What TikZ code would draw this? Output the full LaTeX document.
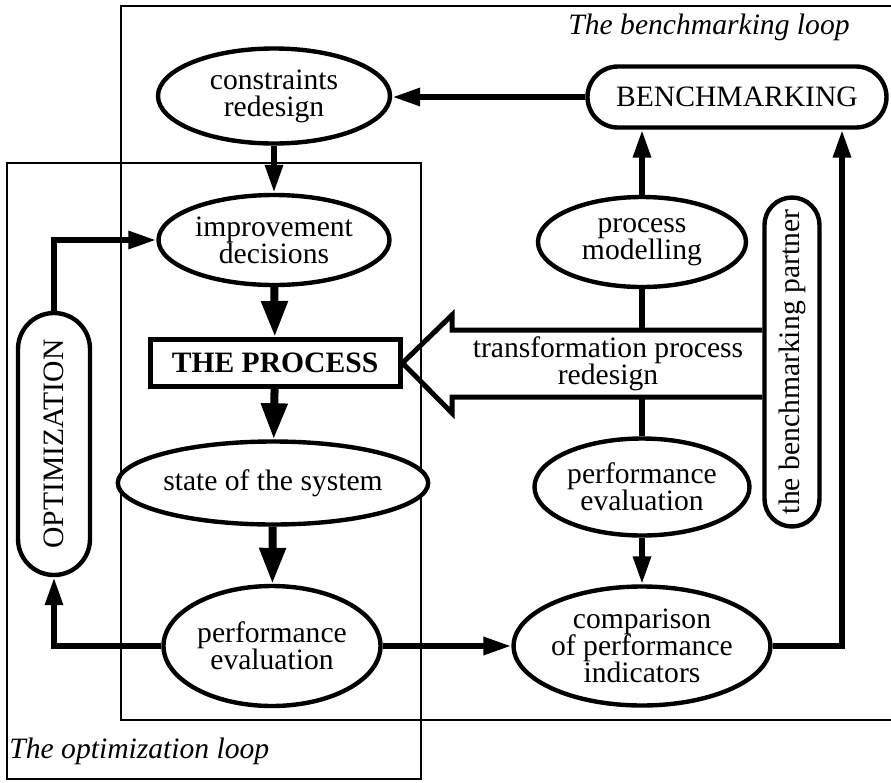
\documentclass[tikz,border=0pt]{standalone}
\usepackage{fontspec}
\setmainfont{Liberation Serif}
\usetikzlibrary{arrows.meta,shapes.geometric}
\begin{document}
\begin{tikzpicture}[x=0.5pt,y=-0.5pt,
  every node/.style={font=\fontsize{14.8}{13.6}\selectfont, align=center, inner sep=0pt},
  oval/.style={ellipse, draw, line width=2.2pt, fill=white},
  pill/.style={draw, line width=2.2pt, fill=white},
  loopframe/.style={line width=1.4pt},
  arr/.style={line width=3pt, -{Triangle[length=14pt,width=8.5pt]}},
  thickarr/.style={line width=4pt, -{Triangle[length=18pt,width=12.5pt]}},
  link/.style={line width=3pt},
  bigarrow/.style={line width=2.5pt, line join=miter},
]
\useasboundingbox (0,0) rectangle (891,783);

% loop frames
\draw[loopframe] (891,6) -- (121,6) -- (121,720) -- (891,720);
\draw[loopframe] (7,163) rectangle (421,779);
\node[anchor=base east, font=\fontsize{14.8}{13.6}\itshape] (bltitle) at (850,34) {The benchmarking loop};
\node[anchor=base west, font=\fontsize{14.8}{13.6}\itshape] (oltitle) at (9,758) {The optimization loop};

% optimization loop column
\node[oval, minimum width=116pt, minimum height=47.5pt] (constraints) at (274,96) {constraints\\redesign};
\node[oval, minimum width=115.5pt, minimum height=45pt] (improvement) at (274,240) {improvement\\decisions};
\node[draw, line width=2.5pt, fill=white, minimum width=125pt, minimum height=23.5pt, font=\fontsize{14.8}{13.6}\bfseries] (process) at (275,363) {THE PROCESS};
\node[oval, minimum width=135.5pt, minimum height=41.5pt] (state) at (273,483) {state of the system};
\node[oval, minimum width=108.5pt, minimum height=60pt] (perfL) at (272,646) {performance\\evaluation};
\node[pill, minimum width=36pt, minimum height=131pt, rounded corners=18pt] (opt) at (54,444) {\rotatebox{90}{OPTIMIZATION}};

% benchmarking column
\node[pill, minimum width=149.5pt, minimum height=30.5pt, rounded corners=15.25pt] (bench) at (737,97) {BENCHMARKING};
\node[oval, minimum width=104pt, minimum height=45pt] (procmod) at (642,242) {process\\modelling};
\node[oval, minimum width=107.5pt, minimum height=48.5pt] (perfR) at (642,487) {performance\\evaluation};
\node[oval, minimum width=112.5pt, minimum height=59.5pt] (comp) at (642,646) {comparison\\of performance\\indicators};
\node[pill, minimum width=27.5pt, minimum height=164.5pt, rounded corners=13.75pt] (partner) at (792,362) {\rotatebox{90}{the benchmarking partner}};

% redesign arrow pointing at the process
\coordinate (bat) at (642,330);
\coordinate (bab) at (642,397);
\draw[bigarrow] (partner.west |- bat) -- (452,330) -- (452,315) -- (process.east)
  -- (452,413) -- (452,397) -- (partner.west |- bab);
\node (redesign) at (608,364) {transformation process\\redesign};

% connectors
\draw[arr] (bench.west) -- (constraints.east |- bench.west);
\draw[arr] (constraints) -- (improvement);
\draw[thickarr] (improvement) -- (process);
\draw[thickarr] (process) -- (state);
\draw[thickarr] (state) -- (perfL);
\draw[arr] (perfL.west) -| (opt.south);
\draw[arr] (opt.north) |- (improvement.west);
\draw[arr] (perfL.east) -- (comp.west);
\draw[arr] (procmod.north) -- (procmod.north |- bench.south);
\draw[link] (procmod.south) -- (bat);
\draw[link] (bab) -- (perfR.north);
\draw[arr] (perfR.south) -- (comp.north);
\coordinate (rcol) at (842,97);
\draw[arr] (comp.east) -| (rcol |- bench.south);
\end{tikzpicture}
\end{document}
